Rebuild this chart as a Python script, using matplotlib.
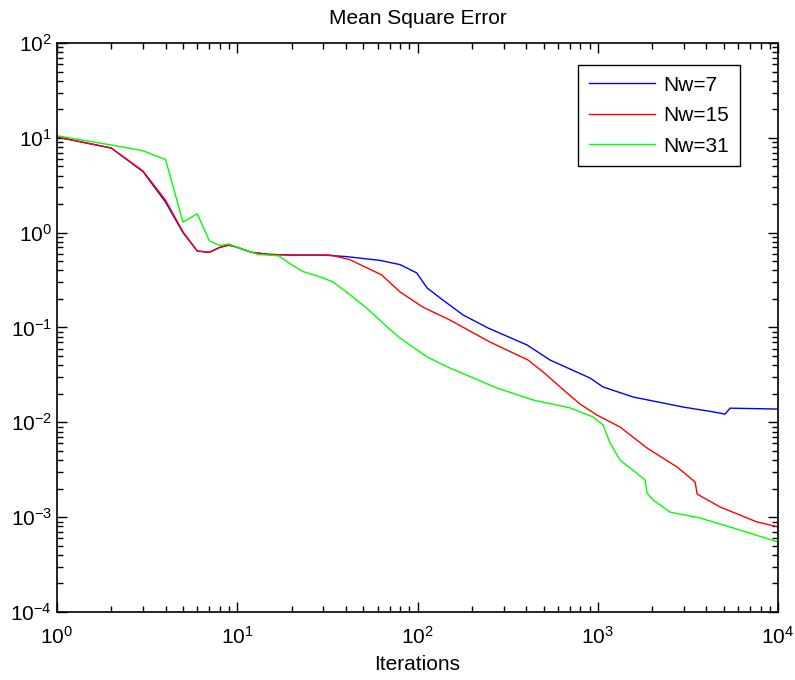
import matplotlib
matplotlib.use("Agg")
import matplotlib.pyplot as plt
from matplotlib.ticker import LogLocator, NullFormatter

plt.rcParams['font.family'] = ['Liberation Sans', 'DejaVu Sans']
plt.rcParams['mathtext.fontset'] = 'custom'
plt.rcParams['mathtext.rm'] = 'Liberation Sans'
plt.rcParams['mathtext.it'] = 'Liberation Sans'
plt.rcParams['mathtext.bf'] = 'Liberation Sans'
plt.rcParams['axes.unicode_minus'] = False

# Nw=7
it_7 = [1, 2, 3, 4, 5, 6, 7, 8, 9, 10, 12, 15, 20, 30, 40, 62, 80, 99, 113,
        138, 179, 246, 405, 543, 906, 1069, 1570, 2970, 4360, 5080, 5420, 10000]
mse_7 = [10.2, 7.8, 4.4, 2.1, 1.0, 0.64, 0.62, 0.70, 0.74, 0.70, 0.62, 0.59, 0.58,
         0.58, 0.56, 0.51, 0.46, 0.376, 0.261, 0.195, 0.1355, 0.0988, 0.0654,
         0.0454, 0.0293, 0.0236, 0.0185, 0.0145, 0.0129, 0.0122, 0.0141, 0.0138]

# Nw=15
it_15 = [1, 2, 3, 4, 5, 6, 7, 8, 9, 10, 12, 15, 20, 33, 42, 63, 80, 107, 151,
         252, 410, 497, 675, 797, 991, 1328, 1875, 2752, 3465, 3560, 4770, 7640, 10000]
mse_15 = [10.2, 7.8, 4.47, 2.2, 1.02, 0.64, 0.62, 0.70, 0.74, 0.70, 0.62, 0.59, 0.58,
          0.58, 0.52, 0.36, 0.237, 0.164, 0.12, 0.0703, 0.0454, 0.034, 0.0204,
          0.0156, 0.0119, 0.00893, 0.00536, 0.00338, 0.00235, 0.00175, 0.00128,
          0.00089, 0.00079]

# Nw=31
it_31 = [1, 2, 3, 4, 5, 6, 7, 8, 9, 10, 13, 17, 19, 23, 29, 34, 41, 52, 68, 80, 113,
         151, 276, 437, 701, 941, 1069, 1170, 1328, 1830, 1875, 2027, 2516, 3690,
         5624, 10000]
mse_31 = [10.5, 8.4, 7.3, 5.9, 1.29, 1.58, 0.82, 0.73, 0.76, 0.70, 0.59, 0.57, 0.49,
          0.39, 0.34, 0.302, 0.231, 0.161, 0.101, 0.0774, 0.0489, 0.0374, 0.023,
          0.0172, 0.0142, 0.0114, 0.00937, 0.00605, 0.0040, 0.00247, 0.0018,
          0.00152, 0.00113, 0.00098, 0.00077, 0.000547]

fig = plt.figure(figsize=(7.95, 6.8), dpi=100)
ax = fig.add_axes([0.0717, 0.1, 0.907, 0.8368])

ax.loglog(it_7, mse_7, color=(0, 0, 1), lw=1.0, label='Nw=7')
ax.loglog(it_15, mse_15, color=(1, 0, 0), lw=1.0, label='Nw=15')
ax.loglog(it_31, mse_31, color=(0, 1, 0), lw=1.0, label='Nw=31')

ax.set_xlim(1, 1e4)
ax.set_ylim(1e-4, 1e2)

ax.xaxis.set_major_locator(LogLocator(base=10, numticks=10))
ax.yaxis.set_major_locator(LogLocator(base=10, numticks=10))
ax.xaxis.set_minor_locator(LogLocator(base=10, subs=range(2, 10), numticks=20))
ax.yaxis.set_minor_locator(LogLocator(base=10, subs=range(2, 10), numticks=20))
ax.xaxis.set_minor_formatter(NullFormatter())
ax.yaxis.set_minor_formatter(NullFormatter())

ax.tick_params(which='both', direction='in', top=True, right=True, labelsize=15)
ax.tick_params(which='major', length=7, width=1)
ax.tick_params(which='minor', length=4, width=1)
ax.tick_params(axis='x', which='major', pad=10)
for sp in ax.spines.values():
    sp.set_linewidth(1.2)

ax.set_title('Mean Square Error', fontsize=15, pad=14)
ax.set_xlabel('Iterations', fontsize=15, labelpad=5)

leg = ax.legend(loc='upper right', bbox_to_anchor=(0.947, 0.961), borderaxespad=0,
                fontsize=15, fancybox=False, framealpha=1, edgecolor='black',
                handlelength=3.2, handletextpad=0.4, labelspacing=0.55,
                borderpad=0.5)
leg.get_frame().set_linewidth(1.0)

fig.savefig('out.png', dpi=100)
